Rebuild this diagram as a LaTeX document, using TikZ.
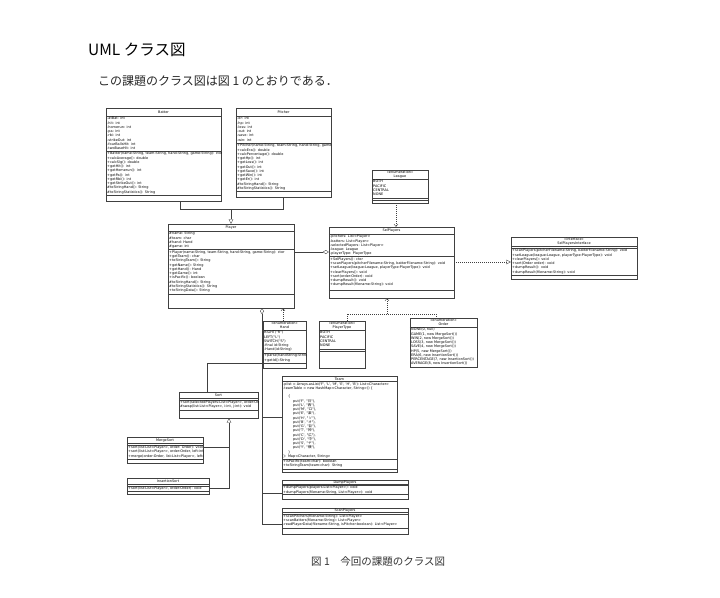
\documentclass[tikz,border=0pt]{standalone}
\usepackage{fontspec}
\usetikzlibrary{arrows.meta,fit}
\newfontfamily\uml{DejaVu Sans}
\newfontfamily\jp{Noto Sans CJK JP}
\newcommand\J[1]{{\jp #1}}
\newcommand\usep[2]{\draw[ln] (#1.west |- 0,#2) -- (#1.east |- 0,#2);}
\begin{document}
\begin{tikzpicture}[x=1pt,y=-1pt,
  ln/.style={draw=black!75,line width=0.35pt},
  box/.style={ln,inner sep=0pt,fill=white},
  t/.style={font=\uml\fontsize{3.45}{4.25}\selectfont,align=left,inner sep=0pt,anchor=north west,text=black},
  ttl/.style={font=\uml\fontsize{3.45}{4.1}\selectfont,align=center,inner sep=0pt,text=black},
  gen/.style={-{Triangle[open,length=4.5pt,width=4.5pt]}},
  dep/.style={-{Straight Barb[length=2.5pt,width=4pt]}},
  dsh/.style={dash pattern=on 1pt off 1pt},
  agg/.style={{Diamond[open,length=6pt,width=4pt]}-}]
\useasboundingbox (0,0) rectangle (720,597);
\fill[white] (0,0) rectangle (720,597);

% page text
\node[anchor=base west,inner sep=0,font=\jp\fontsize{15.5}{18}\selectfont] (head) at (88,55) {UML クラス図};
\node[anchor=base west,inner sep=0,font=\jp\fontsize{12}{14}\selectfont,text=black!85] (para) at (98,85) {この課題のクラス図は図 1 のとおりである．};
\node[anchor=base west,inner sep=0,font=\jp\fontsize{10.5}{12}\selectfont,text=black!80] (cap) at (311,565) {図 1\quad 今回の課題のクラス図};

% ---------- Batter
\node[box,fit={(106,108) (221,201)}] (batter) {};
\usep{batter}{116}\usep{batter}{151}\usep{batter}{195}
\begin{scope}\clip (batter.north west) rectangle (batter.south east);
\node[ttl] (batter-t) at (163.5,112) {Batter};
\node[t] (batter-a) at (107,117) {-atBat: int\\-hit: int\\-homerun: int\\-pa: int\\-rbi: int\\-strikeOut: int\\-fourBallsHit: int\\-twoBaseHit: int};
\node[t] (batter-m) at (107,152) {+Batter(name:String, team:String, hand:String, game:String): ctor\\+calcAverage(): double\\+calcSlg(): double\\+getHit(): int\\+getHomerun(): int\\+getPa(): int\\+getRbi(): int\\+getStrikeOut(): int\\\#toStringHand(): String\\\#toStringStatistics(): String};
\end{scope}

% ---------- Pitcher
\node[box,fit={(236,108) (331,197)}] (pitcher) {};
\usep{pitcher}{116}\usep{pitcher}{143}\usep{pitcher}{191}
\begin{scope}\clip (pitcher.north west) rectangle (pitcher.south east);
\node[ttl] (pitcher-t) at (283.5,112) {Pitcher};
\node[t] (pitcher-a) at (237,117) {-er: int\\-hp: int\\-loss: int\\-out: int\\-save: int\\-win: int};
\node[t] (pitcher-m) at (237,144) {+Pitcher(name:String, team:String, hand:String, game:String): ctor\\+calcEra(): double\\+calcPercentage(): double\\+getHp(): int\\+getLoss(): int\\+getOut(): int\\+getSave(): int\\+getWin(): int\\+getEr(): int\\\#toStringHand(): String\\\#toStringStatistics(): String};
\end{scope}

% ---------- Player
\node[box,fit={(168,224) (294,308)}] (player) {};
\usep{player}{231}\usep{player}{249.5}\usep{player}{294}
\begin{scope}\clip (player.north west) rectangle (player.south east);
\node[ttl] (player-t) at (231,227.5) {Player};
\node[t] (player-a) at (169,232) {\#name: String\\\#team: char\\\#hand: Hand\\\#game: int};
\node[t] (player-m) at (169,250.5) {+Player(name:String, team:String, hand:String, game:String): ctor\\+getTeam(): char\\+toStringTeam(): String\\+getName(): String\\+getHand(): Hand\\+getGame(): int\\+isPacific(): boolean\\\#toStringHand(): String\\\#toStringStatistics(): String\\+toStringData(): String};
\end{scope}

% ---------- League
\node[box,fit={(372,170) (428,203)}] (league) {};
\usep{league}{179}\usep{league}{198}\usep{league}{200.5}
\node[ttl] (league-t) at (400,174.5) {«enumeration»\\League};
\node[t] (league-a) at (373,180) {BOTH\\PACIFIC\\CENTRAL\\NONE};

% ---------- SelPlayers
\node[box,fit={(329,227) (454,298)}] (sel) {};
\usep{sel}{234}\usep{sel}{256.5}\usep{sel}{290}
\node[ttl] (sel-t) at (391.5,230.5) {SelPlayers};
\node[t] (sel-a) at (330,235) {-pitchers: List<Player>\\-batters: List<Player>\\-selectedPlayers: List<Player>\\-league: League\\-playerType: PlayerType};
\node[t] (sel-m) at (330,257.5) {+SelPlayers(): ctor\\+scanPlayers(pitcherFilename:String, batterFilename:String): void\\+setLeague(league:League, playerType:PlayerType): void\\+clearPlayers(): void\\+sort(order:Order): void\\+dumpResult(): void\\+dumpResult(filename:String): void};

% ---------- SelPlayersInterface
\node[box,fit={(511,237) (637,279)}] (iface) {};
\usep{iface}{246.5}\usep{iface}{248}\usep{iface}{275.5}
\node[ttl] (iface-t) at (574,241.5) {«interface»\\SelPlayersInterface};
\node[t] (iface-m) at (512,249) {+scanPlayers(pitcherFilename:String, batterFilename:String): void\\+setLeague(league:League, playerType:PlayerType): void\\+clearPlayers(): void\\+sort(Order order): void\\+dumpResult(): void\\+dumpResult(filename:String): void};

% ---------- Hand
\node[box,fit={(263,321) (306,368)}] (hand) {};
\usep{hand}{330.5}\usep{hand}{353}\usep{hand}{363}
\begin{scope}\clip (hand.north west) rectangle (hand.south east);
\node[ttl] (hand-t) at (284.5,325.5) {«enumeration»\\Hand};
\node[t] (hand-a) at (264,331) {RIGHT("R")\\LEFT("L")\\SWITCH("S")\\-final id:String\\-Hand(id:String)};
\node[t] (hand-m) at (264,354) {+parse(handString:String):Hand\\+getId():String};
\end{scope}

% ---------- PlayerType
\node[box,fit={(319,321) (365,368)}] (ptype) {};
\usep{ptype}{330.5}\usep{ptype}{349}\usep{ptype}{351}
\node[ttl] (ptype-t) at (342,325.5) {«enumeration»\\PlayerType};
\node[t] (ptype-a) at (320,331) {BOTH\\PACIFIC\\CENTRAL\\NONE};

% ---------- Order
\node[box,fit={(410,318) (477,367)}] (order) {};
\usep{order}{327.5}
\begin{scope}\clip (order.north west) rectangle (order.south east);
\node[ttl] (order-t) at (443.5,322.5) {«enumeration»\\Order};
\node[t] (order-a) at (411,328) {NONE(0, null)\\GAME(1, new MergeSort())\\WIN(2, new MergeSort())\\LOSS(3, new MergeSort())\\SAVE(4, new MergeSort())\\HP(5, new MergeSort())\\ERA(6, new InsertionSort())\\PERCENTAGE(7, new InsertionSort())\\AVERAGE(8, new InsertionSort())};
\end{scope}

% ---------- Sort
\node[box,fit={(179,392) (258,418)}] (sort) {};
\usep{sort}{398.5}\usep{sort}{400}\usep{sort}{410}
\begin{scope}\clip (sort.north west) rectangle (sort.south east);
\node[ttl] (sort-t) at (218.5,395.3) {Sort};
\node[t] (sort-m) at (180,400.7) {+sort(selectedPlayers:List<Player>, order:Order): void\\\#swap(list:List<Player>, i:int, j:int): void};
\end{scope}

% ---------- MergeSort
\node[box,fit={(127,437) (203,463)}] (merge) {};
\usep{merge}{443.5}\usep{merge}{445}\usep{merge}{459.5}
\begin{scope}\clip (merge.north west) rectangle (merge.south east);
\node[ttl] (merge-t) at (165,440.3) {MergeSort};
\node[t] (merge-m) at (128,445.7) {+sort(list:List<Player>, order: Order): void\\+sort(list:List<Player>, order:Order, left:int, right:int): void\\+merge(order:Order, list:List<Player>, left:int, right:int): void};
\end{scope}

% ---------- InsertionSort
\node[box,fit={(127,478) (209,494)}] (insert) {};
\usep{insert}{484.5}\usep{insert}{486}\usep{insert}{491}
\begin{scope}\clip (insert.north west) rectangle (insert.south east);
\node[ttl] (insert-t) at (168,481.3) {InsertionSort};
\node[t] (insert-m) at (128,486.6) {+sort(list:List<Player>, order:Order): void};
\end{scope}

% ---------- Team
\node[box,fit={(282,376) (397,472)}] (team) {};
\usep{team}{381.5}\usep{team}{459}\usep{team}{469}
\node[ttl] (team-t) at (339.5,378.8) {Team};
\begin{scope}\clip (team.north west) rectangle (team.south east);
\node[t] (team-a) at (283,382.2) {-plist = Arrays.asList('F', 'L', 'M', 'E', 'H', 'B'): List<Character>\\-teamTable = new HashMap<Character, String>() \{\\\mbox{}\\
\hspace*{5pt}\{\\
\hspace*{10pt}put('F', "\J{日}"),\\
\hspace*{10pt}put('L', "\J{西}"),\\
\hspace*{10pt}put('M', "\J{ロ}"),\\
\hspace*{10pt}put('E', "\J{楽}"),\\
\hspace*{10pt}put('H', "\J{ソ}"),\\
\hspace*{10pt}put('B', "\J{オ}"),\\
\hspace*{10pt}put('G', "\J{巨}"),\\
\hspace*{10pt}put('T', "\J{神}"),\\
\hspace*{10pt}put('C', "\J{広}"),\\
\hspace*{10pt}put('D', "\J{中}"),\\
\hspace*{10pt}put('S', "\J{ヤ}"),\\
\hspace*{10pt}put('Y', "\J{横}"),\\
\hspace*{5pt}\}\\
\}: Map<Character, String>};
\node[t] (team-m) at (283,459.8) {+isPacific(team:char): boolean\\+toStringTeam(team:char): String};
\end{scope}

% ---------- DumpPlayers
\node[box,fit={(282,480) (408,499)}] (dump) {};
\usep{dump}{484}\usep{dump}{485.5}\usep{dump}{494.5}
\node[ttl] (dump-t) at (345,482.2) {DumpPlayers};
\node[t] (dump-m) at (283,486) {+dumpPlayers(players:List<Player>): void\\+dumpPlayers(filename:String, List<Player>): void};

% ---------- ScanPlayers
\node[box,fit={(282,508) (408,534)}] (scan) {};
\usep{scan}{512.5}\usep{scan}{514}\usep{scan}{528.5}
\node[ttl] (scan-t) at (345,510.5) {ScanPlayers};
\node[t] (scan-m) at (283,514.6) {+scanPitchers(filename:String): List<Player>\\+scanBatters(filename:String): List<Player>\\-readPlayerData(filename:String, isPitcher:boolean): List<Player>};

% ---------- connectors
\coordinate (gj) at (231,209);
\draw[ln] (batter.south -| 180,0) -- (180,209) -- (283,209) -- (pitcher.south -| 283,0);
\draw[ln,gen] (gj) -- (player.north);
\draw[ln,{Diamond[open,length=6pt,width=4pt]}-] (sel.west |- 0,252) -- (player.east |- 0,252);
\draw[ln,dsh,dep] (league.south -| 396,0) -- (sel.north -| 396,0);
\draw[ln,dsh,gen] (sel.east |- 0,262) -- (iface.west |- 0,262);
\draw[ln,dsh,dep] (hand.north -| 283,0) -- (player.south -| 283,0);
\draw[ln,dsh] (ptype.north -| 347,0) -- (347,314) -- (436,314) -- (order.north -| 436,0);
\draw[ln,dsh,dep] (387,314) -- (sel.south -| 387,0);
\draw[ln,agg] (player.south -| 262,0) -- (262,524) -- (scan.west |- 0,524);
\draw[ln] (262,493) -- (dump.west |- 0,493);
\draw[ln] (262,417) -- (team.west |- 0,417);
\draw[ln] (sort.north -| 207,0) -- (207,363) -- (262,363);
\draw[ln] (merge.east |- 0,447) -- (229,447);
\draw[ln,gen] (insert.east |- 0,488) -| (sort.south -| 229,0);
\end{tikzpicture}
\end{document}
